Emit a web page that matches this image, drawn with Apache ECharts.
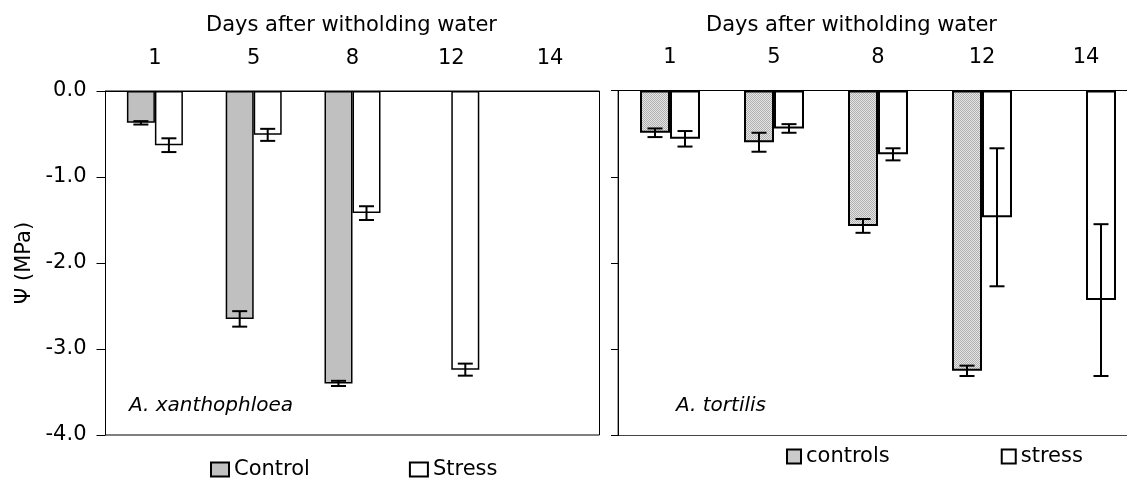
<!DOCTYPE html>
<html><head><meta charset="utf-8">
<script src="https://cdn.jsdelivr.net/npm/echarts@6/dist/echarts.min.js"></script>
<style>html,body{margin:0;padding:0;background:#fff;overflow:hidden;width:1127px;height:482px}#c{width:1150px;height:482px}</style>
</head><body><div id="c"></div>
<script>
const days = ['1', '5', '8', '12', '14'];
const xanthControl    = [-0.37, -2.65, -3.40, null, null];
const xanthControlErr = [0.02, 0.09, 0.03, null, null];
const xanthStress     = [-0.63, -0.51, -1.42, -3.24, null];
const xanthStressErr  = [0.08, 0.07, 0.08, 0.07, null];
const tortControl     = [-0.49, -0.60, -1.57, -3.25, null];
const tortControlErr  = [0.05, 0.11, 0.08, 0.06, null];
const tortStress      = [-0.56, -0.44, -0.74, -1.47, -2.43];
const tortStressErr   = [0.09, 0.05, 0.07, 0.80, 0.88];

const FONT = 'DejaVu Sans';
const chart = echarts.init(document.getElementById('c'));

// dotted grey pattern for the A. tortilis controls
const pc = document.createElement('canvas');
pc.width = 2; pc.height = 2;
const pctx = pc.getContext('2d');
pctx.fillStyle = '#e4e4e4'; pctx.fillRect(0, 0, 2, 2);
pctx.fillStyle = '#b0b0b0'; pctx.fillRect(0, 0, 1, 1); pctx.fillRect(1, 1, 1, 1);
const dotted = { image: pc, repeat: 'repeat' };

function errData(vals, errs) {
  const out = [];
  vals.forEach((v, i) => { if (v != null && errs[i] != null) out.push([i, v, errs[i]]); });
  return out;
}
function errSeries(vals, errs, side, barW, axisIdx) {
  return {
    type: 'custom', xAxisIndex: axisIdx, yAxisIndex: axisIdx, z: 10,
    data: errData(vals, errs), encode: { x: 0, y: 1 },
    renderItem: function (params, api) {
      const i = api.value(0), v = api.value(1), e = api.value(2);
      const a = api.coord([i, v + e]);
      const b = api.coord([i, v - e]);
      const x = a[0] + side * barW / 2;
      const cap = 7.5;
      const st = { stroke: '#000', lineWidth: 2 };
      return { type: 'group', children: [
        { type: 'line', shape: { x1: x, y1: a[1], x2: x, y2: b[1] }, style: st },
        { type: 'line', shape: { x1: x - cap, y1: a[1], x2: x + cap, y2: a[1] }, style: st },
        { type: 'line', shape: { x1: x - cap, y1: b[1], x2: x + cap, y2: b[1] }, style: st }
      ]};
    }
  };
}

const BW_L = 28, BW_R = 30;

function xAx(gi) {
  return {
    type: 'category', gridIndex: gi, data: days, position: 'top',
    axisLine: { lineStyle: { color: '#000', width: 1 } },
    axisTick: { length: 8, lineStyle: { color: '#000' } },
    axisLabel: { color: '#000', fontSize: 21, fontFamily: FONT, margin: 22 },
    splitLine: { show: false }
  };
}

const option = {
  animation: false,
  backgroundColor: '#fff',
  textStyle: { fontFamily: FONT },
  grid: [
    { left: 105.5, width: 494, top: 91, bottom: 47, show: true, borderColor: '#000', borderWidth: 1, containLabel: false },
    { left: 618, width: 520, top: 90.5, bottom: 46.5, show: true, borderColor: '#444', borderWidth: 1, containLabel: false }
  ],
  xAxis: [xAx(0), xAx(1)],
  yAxis: [
    { type: 'value', gridIndex: 0, min: -4, max: 0, interval: 1,
      name: 'Ψ (MPa)', nameLocation: 'middle', nameGap: 70,
      nameTextStyle: { fontSize: 21, color: '#000', fontFamily: FONT },
      axisLine: { show: true, lineStyle: { color: '#000' } },
      axisTick: { show: true, length: 9, lineStyle: { color: '#000' } },
      axisLabel: { color: '#000', fontSize: 21, fontFamily: FONT, margin: 19, formatter: v => v.toFixed(1) },
      splitLine: { show: false } },
    { type: 'value', gridIndex: 1, min: -4, max: 0, interval: 1,
      axisLine: { show: true, lineStyle: { color: '#000' } },
      axisTick: { show: true, length: 7, lineStyle: { color: '#000' } },
      axisLabel: { show: false },
      splitLine: { show: false } }
  ],
  legend: [
    { left: 210, top: 459, padding: 0, itemWidth: 18, itemHeight: 14, itemGap: 99, icon: 'rect',
      textStyle: { fontSize: 21, color: '#000', fontFamily: FONT },
      data: ['Control', 'Stress'] },
    { left: 786, top: 446, padding: 0, itemWidth: 14, itemHeight: 14, itemGap: 111, icon: 'rect',
      textStyle: { fontSize: 21, color: '#000', fontFamily: FONT },
      data: ['controls', 'stress'] }
  ],
  graphic: [
    { type: 'text', x: 206, y: 26, style: { text: 'Days after witholding water', fontSize: 21, fontFamily: FONT, fill: '#000', verticalAlign: 'middle', textVerticalAlign: 'middle' } },
    { type: 'text', x: 706, y: 26, style: { text: 'Days after witholding water', fontSize: 21, fontFamily: FONT, fill: '#000', verticalAlign: 'middle', textVerticalAlign: 'middle' } },
    { type: 'text', x: 129, y: 406, style: { text: 'A. xanthophloea', fontSize: 20, fontStyle: 'italic', fontFamily: FONT, fill: '#000', verticalAlign: 'middle', textVerticalAlign: 'middle' } },
    { type: 'text', x: 676, y: 406, style: { text: 'A. tortilis', fontSize: 20, fontStyle: 'italic', fontFamily: FONT, fill: '#000', verticalAlign: 'middle', textVerticalAlign: 'middle' } }
  ],
  series: [
    { name: 'Control', type: 'bar', xAxisIndex: 0, yAxisIndex: 0, data: xanthControl, barWidth: BW_L, barGap: '0%',
      itemStyle: { color: '#c0c0c0', borderColor: '#000', borderWidth: 1.5 } },
    { name: 'Stress', type: 'bar', xAxisIndex: 0, yAxisIndex: 0, data: xanthStress, barWidth: BW_L, barGap: '0%',
      itemStyle: { color: '#fff', borderColor: '#000', borderWidth: 1.5 } },
    { name: 'controls', type: 'bar', xAxisIndex: 1, yAxisIndex: 1, data: tortControl, barWidth: BW_R, barGap: '0%',
      itemStyle: { color: dotted, borderColor: '#000', borderWidth: 2 } },
    { name: 'stress', type: 'bar', xAxisIndex: 1, yAxisIndex: 1, data: tortStress, barWidth: BW_R, barGap: '0%',
      itemStyle: { color: '#fff', borderColor: '#000', borderWidth: 2 } },
    errSeries(xanthControl, xanthControlErr, -1, BW_L, 0),
    errSeries(xanthStress, xanthStressErr, 1, BW_L, 0),
    errSeries(tortControl, tortControlErr, -1, BW_R, 1),
    errSeries(tortStress, tortStressErr, 1, BW_R, 1)
  ]
};
chart.setOption(option);
</script>
</body></html>
